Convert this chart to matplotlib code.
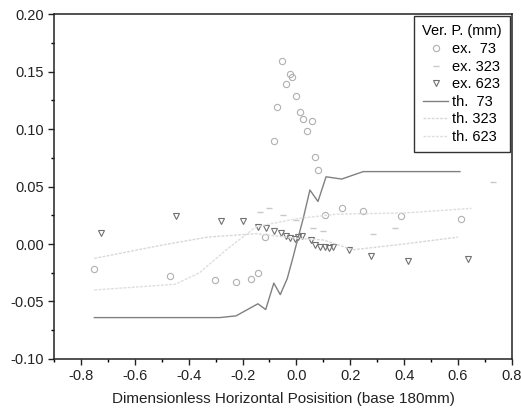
import matplotlib
matplotlib.use("Agg")
import matplotlib.pyplot as plt
from matplotlib.ticker import MultipleLocator, FormatStrFormatter

plt.rcParams['font.family'] = ['Liberation Sans', 'DejaVu Sans']

# ex. 73 (circles)
ex73_x = [-0.752, -0.47, -0.304, -0.225, -0.168, -0.142, -0.118, -0.085, -0.071, -0.055,
          -0.039, -0.024, -0.018, 0.0, 0.013, 0.025, 0.038, 0.056, 0.068, 0.08,
          0.106, 0.168, 0.248, 0.388, 0.61]
ex73_y = [-0.022, -0.028, -0.031, -0.033, -0.030, -0.025, 0.006, 0.090, 0.119, 0.159,
          0.139, 0.148, 0.145, 0.129, 0.115, 0.109, 0.098, 0.107, 0.076, 0.064,
          0.025, 0.031, 0.029, 0.024, 0.022]

# ex. 323 (faint dashes)
ex323_x = [-0.136, -0.10, -0.05, 0.0, 0.062, 0.10, 0.285, 0.365, 0.729]
ex323_y = [0.028, 0.031, 0.025, 0.021, 0.0137, 0.011, 0.0085, 0.014, 0.054]

# ex. 623 (down triangles)
ex623_x = [-0.725, -0.447, -0.28, -0.199, -0.143, -0.112, -0.084, -0.056, -0.037, -0.024,
           -0.006, 0.007, 0.022, 0.054, 0.07, 0.088, 0.106, 0.12, 0.135, 0.195,
           0.275, 0.413, 0.636]
ex623_y = [0.0098, 0.024, 0.020, 0.020, 0.0145, 0.0137, 0.011, 0.0098, 0.007, 0.0055,
           0.0043, 0.0058, 0.007, 0.0035, -0.0012, -0.0022, -0.003, -0.0035, -0.003, -0.005,
           -0.010, -0.015, -0.013]

# th. 73
th73_x = [-0.75, -0.285, -0.224, -0.174, -0.143, -0.114, -0.084, -0.06, -0.034, -0.012,
          0.0, 0.025, 0.05, 0.08, 0.11, 0.168, 0.248, 0.607]
th73_y = [-0.064, -0.064, -0.0625, -0.056, -0.052, -0.057, -0.034, -0.044, -0.030, -0.011,
          0.0, 0.022, 0.047, 0.037, 0.0585, 0.0565, 0.063, 0.063]

# th. 323
th323_x = [-0.75, -0.5, -0.33, -0.15, 0.0, 0.1, 0.21, 0.4, 0.6]
th323_y = [-0.0125, -0.001, 0.006, 0.009, 0.005, 0.0035, -0.005, 0.0, 0.006]

# th. 623
th623_x = [-0.75, -0.45, -0.36, -0.26, -0.15, 0.0, 0.15, 0.4, 0.65]
th623_y = [-0.04, -0.035, -0.025, -0.005, 0.015, 0.022, 0.026, 0.027, 0.031]

fig = plt.figure(figsize=(5.21, 4.15), dpi=100)
ax = fig.add_axes([0.1036, 0.135, 0.879, 0.831])

ax.plot(ex73_x, ex73_y, linestyle='none', marker='o', markersize=4.5,
        markerfacecolor='none', markeredgecolor='#b0b0b0', markeredgewidth=0.8, label='ex.  73')
ax.plot(ex323_x, ex323_y, linestyle='none', marker='_', markersize=5,
        markeredgecolor='#c8c8c8', markeredgewidth=1.0, label='ex. 323')
ax.plot(ex623_x, ex623_y, linestyle='none', marker='v', markersize=5,
        markerfacecolor='none', markeredgecolor='#707070', markeredgewidth=0.8, label='ex. 623')
ax.plot(th73_x, th73_y, color='#808080', linewidth=1.0, label='th.  73')
ax.plot(th323_x, th323_y, color='#d8d8d8', linewidth=1.0, linestyle=(0, (2, 1)), label='th. 323')
ax.plot(th623_x, th623_y, color='#dedede', linewidth=1.0, linestyle=(0, (2, 1)), label='th. 623')

ax.set_xlim(-0.9, 0.8)
ax.set_ylim(-0.10, 0.20)
ax.xaxis.set_major_locator(MultipleLocator(0.2))
ax.xaxis.set_minor_locator(MultipleLocator(0.1))
ax.yaxis.set_major_locator(MultipleLocator(0.05))
ax.yaxis.set_minor_locator(MultipleLocator(0.025))
ax.xaxis.set_major_formatter(FormatStrFormatter('%.1f'))
ax.yaxis.set_major_formatter(FormatStrFormatter('%.2f'))
ax.tick_params(which='major', direction='out', length=4, width=1.0, labelsize=10.5,
               colors='#222222', top=False, right=False, pad=3)
ax.tick_params(which='minor', direction='out', length=2.5, width=1.0, top=False, right=False)
for s in ax.spines.values():
    s.set_linewidth(1.1)
    s.set_color('#222222')

ax.set_xlabel('Dimensionless Horizontal Posisition (base 180mm)', fontsize=11,
              color='#222222', labelpad=7)

leg = ax.legend(title='Ver. P. (mm)', loc='upper right', fontsize=10.5, title_fontsize=10.5,
                frameon=True, fancybox=False, edgecolor='#333333', framealpha=1,
                handlelength=1.7, handletextpad=0.3, labelspacing=0.24,
                borderpad=0.55, borderaxespad=0.15, markerfirst=True)
leg.get_frame().set_linewidth(1.0)
leg._legend_box.sep = 3

fig.savefig('out.png', dpi=100)
